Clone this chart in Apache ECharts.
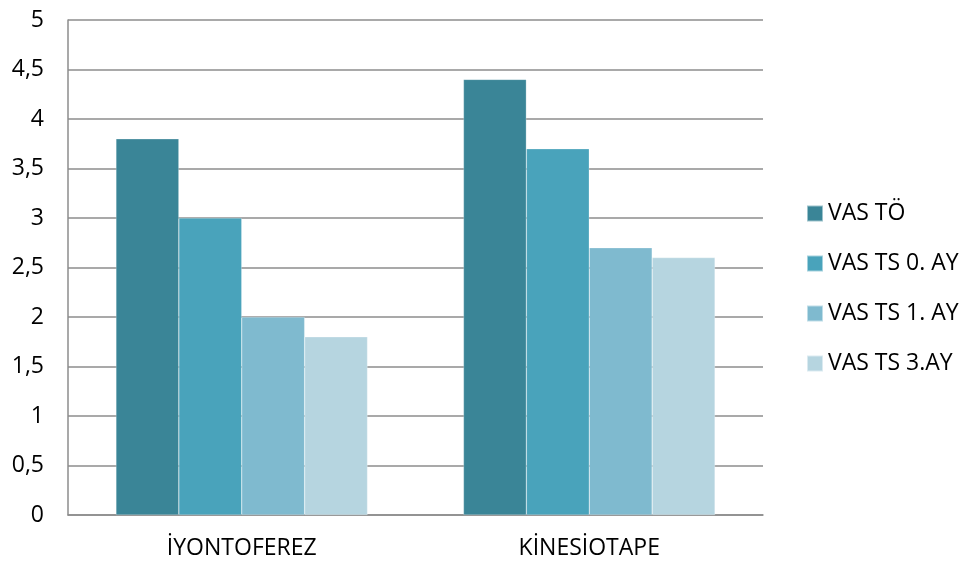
<!DOCTYPE html>
<html>
<head>
<meta charset="utf-8">
<script src="https://cdn.jsdelivr.net/npm/echarts@6/dist/echarts.min.js"></script>
<style>
  html, body { margin: 0; padding: 0; background: #fff; }
  #chart { width: 963px; height: 563px; }
</style>
</head>
<body>
<div id="chart"></div>
<script>
const categories = ['İYONTOFEREZ', 'KİNESİOTAPE'];
const seriesNames = ['VAS TÖ', 'VAS TS 0. AY', 'VAS TS 1. AY', 'VAS TS 3.AY'];
const vasTo = [3.8, 4.4];
const vasTs0 = [3.0, 3.7];
const vasTs1 = [2.0, 2.7];
const vasTs3 = [1.8, 2.6];
const colors = ['#3a8597', '#49a3bb', '#7fbacf', '#b6d5e0'];

const chart = echarts.init(document.getElementById('chart'));
const font = '"Open Sans", Lato, sans-serif';

const values = [vasTo, vasTs0, vasTs1, vasTs3];

chart.setOption({
  animation: false,
  textStyle: { fontFamily: font },
  grid: { left: 68, right: 200, top: 20, bottom: 48, containLabel: false },
  legend: {
    orient: 'vertical',
    left: 801,
    top: 197,
    itemWidth: 16,
    itemHeight: 16,
    itemGap: 27,
    icon: 'rect',
    textStyle: { fontSize: 23, color: '#000', fontFamily: font },
    data: seriesNames
  },
  xAxis: {
    type: 'category',
    data: categories,
    axisLine: { lineStyle: { color: '#8c8c8c', width: 1.5 } },
    axisTick: { show: false },
    axisLabel: { fontSize: 23, color: '#000', margin: 22, fontFamily: font }
  },
  yAxis: {
    type: 'value',
    min: 0,
    max: 5,
    interval: 0.5,
    axisLine: { show: true, lineStyle: { color: '#8c8c8c', width: 1.5 } },
    axisTick: { show: false },
    splitLine: { lineStyle: { color: '#8c8c8c', width: 1.5 } },
    axisLabel: {
      fontSize: 23,
      color: '#000',
      margin: 24,
      fontFamily: font,
      formatter: v => String(v).replace('.', ',')
    }
  },
  series: seriesNames.map((name, i) => ({
    name: name,
    type: 'bar',
    data: values[i],
    barGap: '0%',
    barCategoryGap: '27.6%',
    itemStyle: { color: colors[i], borderColor: 'rgba(255,255,255,0.5)', borderWidth: 0.5 }
  }))
});
</script>
</body>
</html>
